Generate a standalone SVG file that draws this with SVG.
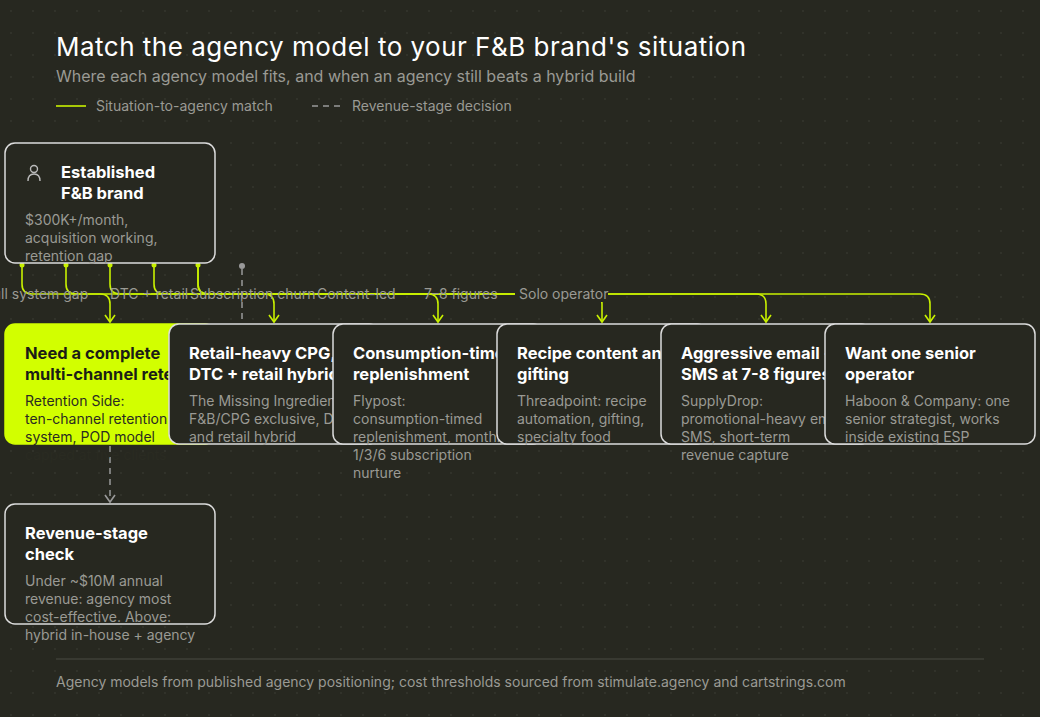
<svg xmlns="http://www.w3.org/2000/svg" width="1040" height="717" viewBox="0 0 1040 717">
<defs>
<pattern id="dots" width="22" height="22" patternUnits="userSpaceOnUse"><circle cx="11" cy="11" r="0.9" fill="#35372d"/></pattern>
<marker id="ah" viewBox="0 0 12 12" refX="10" refY="6" markerWidth="12" markerHeight="12" orient="auto" markerUnits="userSpaceOnUse"><path d="M3,1 L10,6 L3,11" fill="none" stroke="#c8f000" stroke-width="1.6"/></marker>
<marker id="ahg" viewBox="0 0 12 12" refX="10" refY="6" markerWidth="12" markerHeight="12" orient="auto" markerUnits="userSpaceOnUse"><path d="M3,1 L10,6 L3,11" fill="none" stroke="#999" stroke-width="1.6"/></marker>
<style>
text{font-family:Inter,"Noto Sans","Liberation Sans",sans-serif}
.n{fill:#272820;stroke:#dcdcdc;stroke-width:1.5}
.t{font-size:16.5px;font-weight:700;fill:#fff}
.b{font-size:14px;fill:#9a9a94}
.tl{font-size:16.5px;font-weight:700;fill:#1c1d16}
.bl{font-size:14px;fill:#2a2b22}
.c{fill:none;stroke:#c8f000;stroke-width:1.6}
.d{fill:none;stroke:#999;stroke-width:1.5;stroke-dasharray:6 5}
.lb{font-size:14px;fill:#9a9a94}
</style>
</defs>
<rect width="1040" height="717" fill="#272820"/>
<rect width="1040" height="717" fill="url(#dots)"/>
<text x="56" y="56" font-size="26" fill="#fff" textLength="690">Match the agency model to your F&amp;B brand's situation</text>
<text x="56" y="82" font-size="16" fill="#9a9a94">Where each agency model fits, and when an agency still beats a hybrid build</text>
<line x1="56" y1="106" x2="86" y2="106" class="c"/>
<text x="96" y="111" class="lb">Situation-to-agency match</text>
<line x1="312" y1="106" x2="342" y2="106" class="d"/>
<text x="352" y="111" class="lb">Revenue-stage decision</text>

<g id="connectors">
<path class="c" d="M22,265 V284 Q22,294 32,294 H100 Q110,294 110,304 V322" marker-end="url(#ah)"/>
<path class="c" d="M66,265 V284 Q66,294 76,294 H264 Q274,294 274,304 V322" marker-end="url(#ah)"/>
<path class="c" d="M110,265 V284 Q110,294 120,294 H428 Q438,294 438,304 V322" marker-end="url(#ah)"/>
<path class="c" d="M154,265 V284 Q154,294 164,294 H592 Q602,294 602,304 V322" marker-end="url(#ah)"/>
<path class="c" d="M198,265 V284 Q198,294 208,294 H756 Q766,294 766,304 V322" marker-end="url(#ah)"/>
<path class="c" d="M198,265 V284 Q198,294 208,294 H920 Q930,294 930,304 V322" marker-end="url(#ah)"/>
<circle cx="22" cy="265" r="2.5" fill="#c8f000"/><circle cx="66" cy="265" r="2.5" fill="#c8f000"/><circle cx="110" cy="265" r="2.5" fill="#c8f000"/><circle cx="154" cy="265" r="2.5" fill="#c8f000"/><circle cx="198" cy="265" r="2.5" fill="#c8f000"/>
<circle cx="242" cy="266" r="3" fill="#999"/>
<path class="d" d="M242,269 V324"/>
<path class="d" d="M110,446 V502" marker-end="url(#ahg)"/>
<text x="-15" y="299" class="lb">Full system gap</text>
<text x="110" y="299" class="lb">DTC + retail</text>
<text x="190" y="299" class="lb">Subscription churn</text>
<text x="317" y="299" class="lb">Content-led</text>
<text x="424" y="299" class="lb">7–8 figures</text>
<rect x="515" y="286" width="93" height="16" fill="#272820"/>
<text x="519" y="299" class="lb">Solo operator</text>
</g>

<g id="brand">
<rect class="n" x="5" y="143" width="210" height="120" rx="10"/>
<circle cx="34" cy="169" r="3.5" fill="none" stroke="#bbb" stroke-width="1.4"/>
<path d="M28,181 Q28,174 34,174 Q40,174 40,181" fill="none" stroke="#bbb" stroke-width="1.4"/>
<text x="61" y="178" class="t">Established</text>
<text x="61" y="199" class="t">F&amp;B brand</text>
<text x="25" y="225" class="b">$300K+/month,</text>
<text x="25" y="243" class="b">acquisition working,</text>
<text x="25" y="261" class="b">retention gap</text>
</g>

<g id="n1">
<rect x="5" y="324" width="210" height="120" rx="10" fill="#d2ff00" stroke="#d2ff00" stroke-width="1.5"/>
<text x="25" y="359" class="tl">Need a complete</text>
<text x="25" y="380" class="tl">multi-channel retention</text>
<text x="25" y="406" class="bl">Retention Side:</text>
<text x="25" y="424" class="bl">ten-channel retention</text>
<text x="25" y="442" class="bl">system, POD model</text>
<text x="25" y="460" class="bl">capped at five clients</text>
</g>
<g id="n2">
<rect class="n" x="169" y="324" width="210" height="120" rx="10"/>
<text x="189" y="359" class="t">Retail-heavy CPG,</text>
<text x="189" y="380" class="t">DTC + retail hybrid</text>
<text x="189" y="406" class="b">The Missing Ingredient:</text>
<text x="189" y="424" class="b">F&amp;B/CPG exclusive, DTC</text>
<text x="189" y="442" class="b">and retail hybrid</text>
</g>
<g id="n3">
<rect class="n" x="333" y="324" width="210" height="120" rx="10"/>
<text x="353" y="359" class="t">Consumption-timed</text>
<text x="353" y="380" class="t">replenishment</text>
<text x="353" y="406" class="b">Flypost:</text>
<text x="353" y="424" class="b">consumption-timed</text>
<text x="353" y="442" class="b">replenishment, monthly</text>
<text x="353" y="460" class="b">1/3/6 subscription</text>
<text x="353" y="478" class="b">nurture</text>
</g>
<g id="n4">
<rect class="n" x="497" y="324" width="210" height="120" rx="10"/>
<text x="517" y="359" class="t">Recipe content and</text>
<text x="517" y="380" class="t">gifting</text>
<text x="517" y="406" class="b">Threadpoint: recipe</text>
<text x="517" y="424" class="b">automation, gifting,</text>
<text x="517" y="442" class="b">specialty food</text>
</g>
<g id="n5">
<rect class="n" x="661" y="324" width="210" height="120" rx="10"/>
<text x="681" y="359" class="t">Aggressive email +</text>
<text x="681" y="380" class="t">SMS at 7-8 figures</text>
<text x="681" y="406" class="b">SupplyDrop:</text>
<text x="681" y="424" class="b">promotional-heavy email</text>
<text x="681" y="442" class="b">SMS, short-term</text>
<text x="681" y="460" class="b">revenue capture</text>
</g>
<g id="n6">
<rect class="n" x="825" y="324" width="210" height="120" rx="10"/>
<text x="845" y="359" class="t">Want one senior</text>
<text x="845" y="380" class="t">operator</text>
<text x="845" y="406" class="b">Haboon &amp; Company: one</text>
<text x="845" y="424" class="b">senior strategist, works</text>
<text x="845" y="442" class="b">inside existing ESP</text>
</g>
<g id="rev">
<rect class="n" x="5" y="504" width="210" height="120" rx="10"/>
<text x="25" y="539" class="t">Revenue-stage</text>
<text x="25" y="560" class="t">check</text>
<text x="25" y="586" class="b">Under ~$10M annual</text>
<text x="25" y="604" class="b">revenue: agency most</text>
<text x="25" y="622" class="b">cost-effective. Above:</text>
<text x="25" y="640" class="b">hybrid in-house + agency</text>
</g>
<line x1="56" y1="659" x2="984" y2="659" stroke="#4a4b42" stroke-width="1"/>
<text x="56" y="687" font-size="14" fill="#9a9a94">Agency models from published agency positioning; cost thresholds sourced from stimulate.agency and cartstrings.com</text>
</svg>
